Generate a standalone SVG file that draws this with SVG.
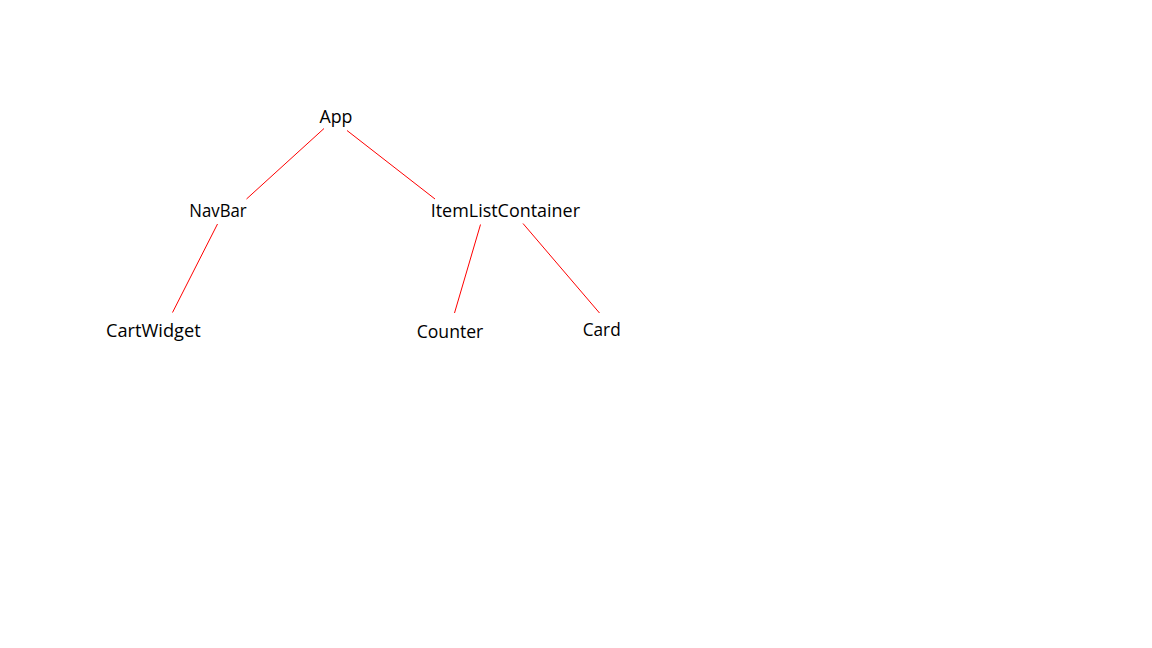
<svg xmlns="http://www.w3.org/2000/svg" width="1152" height="648" viewBox="0 0 1152 648">
<style>
.lbl{font-family:"Open Sans","Noto Sans","Liberation Sans",sans-serif;font-size:18px;fill:#000}
.edge{stroke:#ff0000;stroke-width:1;fill:none}
</style>
<rect width="1152" height="648" fill="#fff"/>
<g id="connectors">
<line class="edge" x1="324" y1="128.5" x2="246.5" y2="199"/>
<line class="edge" x1="347" y1="130.5" x2="435" y2="199"/>
<line class="edge" x1="217.5" y1="224" x2="172.5" y2="312.5"/>
<line class="edge" x1="480.5" y1="224.5" x2="454.5" y2="313"/>
<line class="edge" x1="523" y1="223.5" x2="599.5" y2="313"/>
</g>
<g id="node-app"><text class="lbl" x="319.5" y="122.7" textLength="33" lengthAdjust="spacingAndGlyphs">App</text></g>
<g id="node-navbar"><text class="lbl" x="189.3" y="216.7" textLength="57.4" lengthAdjust="spacingAndGlyphs">NavBar</text></g>
<g id="node-itemlistcontainer"><text class="lbl" x="430.7" y="217" textLength="149.3" lengthAdjust="spacingAndGlyphs">ItemListContainer</text></g>
<g id="node-cartwidget"><text class="lbl" x="106" y="336.7" textLength="94.7" lengthAdjust="spacingAndGlyphs">CartWidget</text></g>
<g id="node-counter"><text class="lbl" x="416.7" y="338.3" textLength="66.6" lengthAdjust="spacingAndGlyphs">Counter</text></g>
<g id="node-card"><text class="lbl" x="582.7" y="336" textLength="38" lengthAdjust="spacingAndGlyphs">Card</text></g>
</svg>
